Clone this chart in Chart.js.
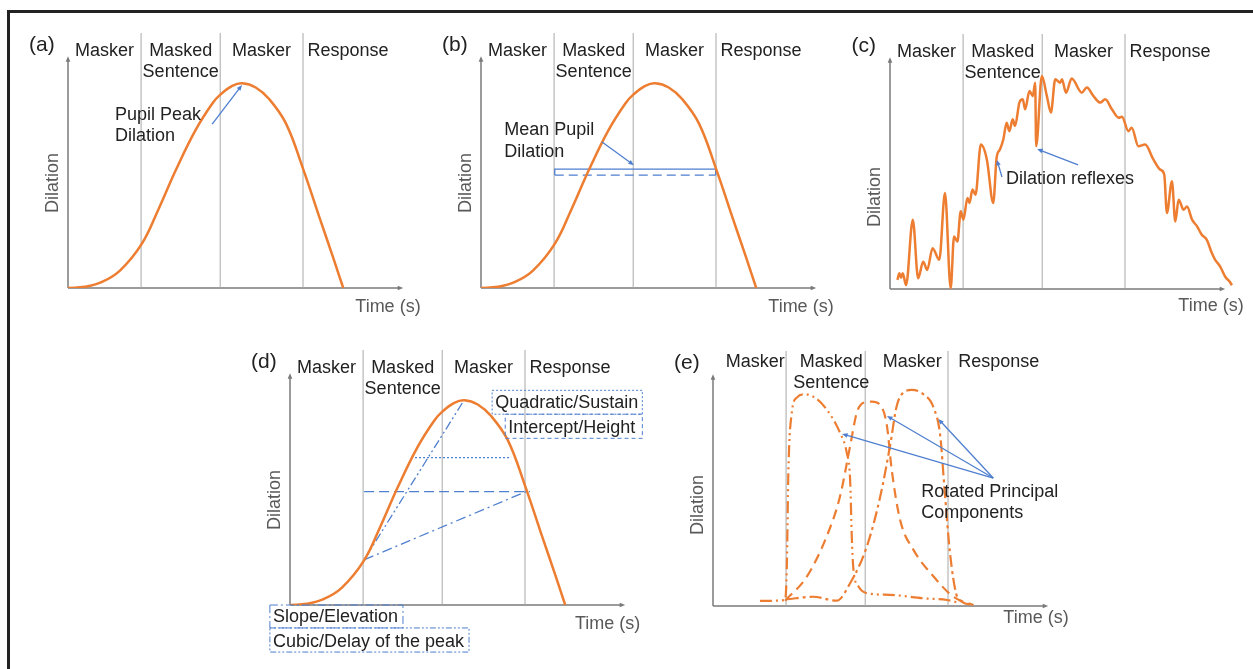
<!DOCTYPE html>
<html>
<head>
<meta charset="utf-8">
<script src="https://cdn.jsdelivr.net/npm/chart.js@4.4.0/dist/chart.umd.min.js"></script>
<style>
  body { margin: 0; background: #fff; }
  #fig { position: relative; width: 1253px; height: 669px; overflow: hidden; background: #fff; }
  #frame { position: absolute; left: 7px; top: 10px; width: 1300px; height: 700px;
           border-top: 3px solid #222; border-left: 3px solid #222; }
  canvas { position: absolute; }
</style>
</head>
<body>
<div id="fig">
  <div id="frame"></div>
  <canvas id="pa" width="420" height="340" style="left:8px;top:13px"></canvas>
  <canvas id="pb" width="420" height="340" style="left:421px;top:13px"></canvas>
  <canvas id="pc" width="420" height="340" style="left:830px;top:14px"></canvas>
  <canvas id="pd" width="420" height="340" style="left:230px;top:330px"></canvas>
  <canvas id="pe" width="420" height="340" style="left:653px;top:331px"></canvas>
</div>
<script>
var FONT = '"Liberation Sans", Arial, sans-serif';
var ORANGE = '#ed7d31';
var BLUE = '#4f7fcf';
var PHASE = '#a8a8a8';
var AXIS = '#7a7a7a';

// trial phases (time, s)
var phaseBounds = [2.18, 4.54, 7.01];
var phaseEnd = 9.7;
var phaseNames = [['Masker'], ['Masked', 'Sentence'], ['Masker'], ['Response']];

// idealised pupil response, panels a, b, d
var pupilTime = [0, 0.5, 1.0, 1.55, 2.2, 2.7, 3.22, 3.8, 4.3, 4.55, 4.9, 5.2, 5.6, 6.0, 6.5, 7.01, 7.5, 7.9, 8.21];
var pupilDil  = [0, 0.05, 0.25, 0.75, 1.9, 3.4, 5.1, 6.8, 7.95, 8.35, 8.72, 8.83, 8.65, 8.15, 7.1, 5.15, 3.05, 1.35, 0];

// raw trace with reflexes, panel c
var rawTime = [0.22, 0.28, 0.33, 0.38, 0.48, 0.68, 0.84, 0.99, 1.11, 1.27, 1.47, 1.64, 1.81, 1.91, 2.01, 2.11, 2.19, 2.31,
  2.37, 2.46, 2.55, 2.71, 2.89, 3.08, 3.18, 3.28, 3.38, 3.48, 3.56, 3.66, 3.73, 3.86, 3.96, 4.03, 4.16, 4.26, 4.33, 4.36,
  4.53, 4.68, 4.80, 4.93, 5.07, 5.13, 5.25, 5.42, 5.72, 5.87, 6.07, 6.27, 6.42, 6.62, 6.82, 6.92, 7.11, 7.21, 7.41, 7.61,
  7.86, 8.06, 8.18, 8.26, 8.41, 8.51, 8.61, 8.76, 8.86, 9.01, 9.16, 9.30, 9.45, 9.60, 9.70, 9.85, 10.0, 10.13, 10.20];
var rawDil = [0.39, 0.68, 0.48, 0.68, 0.17, 2.99, 0.46, 1.18, 0.82, 1.76, 1.26, 4.14, 0.03, 2.26, 2.05, 3.35, 2.99, 3.93,
  3.71, 4.29, 4.07, 6.23, 5.58, 3.71, 5.66, 6.02, 6.45, 7.17, 6.81, 7.32, 7.03, 8.04, 8.18, 7.75, 8.54, 8.32, 8.90, 6.16,
  9.19, 8.32, 7.61, 9.05, 8.90, 9.05, 8.47, 9.08, 8.47, 8.69, 8.32, 8.04, 8.18, 7.75, 7.39, 7.43, 6.81, 6.96, 6.16, 6.23,
  5.58, 5.15, 4.94, 3.28, 4.65, 2.91, 3.85, 3.42, 3.56, 2.99, 2.70, 2.34, 2.12, 1.55, 1.26, 0.97, 0.53, 0.32, 0.16];

// mean pupil dilation band, panel b
var meanSpan = [2.2, 7.0];
var meanTop = 5.13;
var meanBottom = 4.87;

// growth curve terms, panel d
var cubicTime = [2.21, 5.19],  cubicDil = [1.95, 8.83];
var slopeTime = [2.21, 7.04],  slopeDil = [1.95, 4.89];
var interTime = [2.21, 7.16],  interDil = [4.89, 4.89];
var quadTime  = [3.73, 6.57],  quadDil  = [6.36, 6.36];

// rotated principal components, panel e
var pc1Time = [1.40, 2.15, 2.20, 2.25, 2.35, 2.50, 2.75, 3.04, 3.39, 3.79, 3.99, 4.09, 4.14, 4.19, 4.34, 4.59, 5.28, 6.28, 6.98, 7.37];
var pc1Dil  = [0.22, 0.26, 1.56, 5.89, 8.34, 8.99, 9.13, 8.99, 8.48, 7.47, 6.61, 5.45, 3.0, 1.56, 0.84, 0.55, 0.48, 0.33, 0.26, 0.12];
var pc2Time = [2.15, 2.80, 3.39, 3.79, 4.09, 4.29, 4.49, 4.74, 5.04, 5.19, 5.33, 5.58, 5.98, 6.58, 7.17, 7.77];
var pc2Dil  = [0.23, 1.27, 3.0, 4.73, 6.9, 8.34, 8.77, 8.82, 8.56, 7.76, 5.89, 3.72, 2.42, 1.27, 0.40, 0.04];
var pc3Time = [2.20, 2.99, 3.69, 4.09, 4.59, 4.99, 5.28, 5.48, 5.68, 5.93, 6.28, 6.58, 6.78, 6.90, 7.07, 7.25, 7.42, 7.77];
var pc3Dil  = [0.29, 0.40, 0.23, 0.98, 2.57, 4.73, 6.9, 8.63, 9.21, 9.32, 9.13, 8.56, 7.33, 5.16, 2.28, 0.55, 0.19, 0.04];

function zip(t, d) {
    return t.map(function (v, i) { return { x: v, y: d[i] }; });
}

function curve(t, d, color, width, dash, smooth) {
    var ds = {
        data: zip(t, d),
        borderColor: color,
        borderWidth: width,
        borderDash: dash || [],
        pointRadius: 0,
        fill: false
    };
    if (smooth) {
        ds.tension = smooth;
    } else {
        ds.cubicInterpolationMode = 'monotone';
    }
    return ds;
}

function phaseLines() {
    return phaseBounds.map(function (b) {
        return { data: [{ x: b, y: 0 }, { x: b, y: 11 }], borderColor: PHASE, borderWidth: 1, pointRadius: 0 };
    });
}

function drawArrow(ctx, x1, y1, x2, y2, head) {
    var a = Math.atan2(y2 - y1, x2 - x1);
    ctx.beginPath();
    ctx.moveTo(x1, y1);
    ctx.lineTo(x2 - Math.cos(a) * head * 0.6, y2 - Math.sin(a) * head * 0.6);
    ctx.stroke();
    ctx.beginPath();
    ctx.moveTo(x2, y2);
    ctx.lineTo(x2 - head * Math.cos(a - 0.4), y2 - head * Math.sin(a - 0.4));
    ctx.lineTo(x2 - head * Math.cos(a + 0.4), y2 - head * Math.sin(a + 0.4));
    ctx.closePath();
    ctx.fill();
}

var schematic = {
    id: 'schematic',
    beforeDatasetsDraw: function (chart) {
        var ctx = chart.ctx;
        var X = function (v) { return chart.scales.x.getPixelForValue(v); };
        var Y = function (v) { return chart.scales.y.getPixelForValue(v); };
        ctx.save();
        ctx.strokeStyle = AXIS;
        ctx.fillStyle = AXIS;
        ctx.lineWidth = 1.5;
        drawArrow(ctx, X(0), Y(0), X(10), Y(0), 6);
        drawArrow(ctx, X(0), Y(0), X(0), Y(10), 6);
        ctx.restore();
    },
    afterDatasetsDraw: function (chart) {
        var o = chart.options.plugins.schematic;
        var ctx = chart.ctx;
        var X = function (v) { return chart.scales.x.getPixelForValue(v); };
        var Y = function (v) { return chart.scales.y.getPixelForValue(v); };
        ctx.save();
        ctx.textBaseline = 'middle';

        // panel letter
        ctx.fillStyle = '#222';
        ctx.font = '21px ' + FONT;
        ctx.textAlign = 'center';
        ctx.fillText(o.letter, X(-0.78), Y(10.48));

        // phase names
        ctx.font = '18px ' + FONT;
        var edges = [0].concat(phaseBounds, [phaseEnd]);
        phaseNames.forEach(function (lines, i) {
            var cx = (edges[i] + edges[i + 1]) / 2 + (o.labelDx || 0);
            lines.forEach(function (s, j) {
                ctx.fillText(s, X(cx), Y(10.22 + (o.labelDy || 0) - j * 0.92));
            });
        });

        // axis titles
        ctx.fillStyle = '#595959';
        ctx.save();
        ctx.translate(X(-0.45), Y(o.titleY));
        ctx.rotate(-Math.PI / 2);
        ctx.fillText('Dilation', 0, 0);
        ctx.restore();
        ctx.textAlign = 'left';
        ctx.fillText('Time (s)', X(o.timeX), Y(o.timeY));

        // boxes
        ctx.strokeStyle = BLUE;
        ctx.lineWidth = 1;
        (o.boxes || []).forEach(function (b) {
            ctx.setLineDash(b.dash);
            ctx.strokeRect(X(b.x0), Y(b.y1), X(b.x1) - X(b.x0), Y(b.y0) - Y(b.y1));
        });
        ctx.setLineDash([]);

        // notes
        ctx.fillStyle = '#222';
        (o.notes || []).forEach(function (n) {
            ctx.fillText(n.text, X(n.x), Y(n.y));
        });

        // arrows
        ctx.strokeStyle = BLUE;
        ctx.fillStyle = BLUE;
        ctx.lineWidth = 1.3;
        (o.arrows || []).forEach(function (a) {
            drawArrow(ctx, X(a[0]), Y(a[1]), X(a[2]), Y(a[3]), 6);
        });
        ctx.restore();
    }
};

function makePanel(id, datasets, extra) {
    return new Chart(document.getElementById(id), {
        type: 'line',
        data: { datasets: datasets.concat(phaseLines()) },
        options: {
            responsive: false,
            animation: false,
            devicePixelRatio: 1,
            layout: { padding: { left: 60, top: 20, right: 8, bottom: 65 } },
            scales: {
                x: { type: 'linear', min: 0, max: 10.5, display: false },
                y: { type: 'linear', min: 0, max: 11, display: false }
            },
            plugins: {
                legend: { display: false },
                tooltip: { enabled: false },
                schematic: extra
            }
        },
        plugins: [schematic]
    });
}

makePanel('pa', [curve(pupilTime, pupilDil, ORANGE, 2.5, null, 0.4)], {
    letter: '(a)', titleY: 4.53, timeX: 8.57, timeY: -0.82,
    notes: [{ text: 'Pupil Peak', x: 1.40, y: 7.46 }, { text: 'Dilation', x: 1.40, y: 6.56 }],
    arrows: [[4.30, 7.07, 5.19, 8.76]]
});

makePanel('pb', [
    curve(pupilTime, pupilDil, ORANGE, 2.5, null, 0.4),
    { data: [{ x: meanSpan[0], y: meanBottom }, { x: meanSpan[0], y: meanTop }, { x: meanSpan[1], y: meanTop }, { x: meanSpan[1], y: meanBottom }],
      borderColor: BLUE, borderWidth: 1.3, pointRadius: 0 },
    { data: [{ x: meanSpan[0], y: meanBottom }, { x: meanSpan[1], y: meanBottom }],
      borderColor: BLUE, borderWidth: 1.3, borderDash: [9, 5], pointRadius: 0 }
], {
    letter: '(b)', titleY: 4.53, timeX: 8.57, timeY: -0.82,
    notes: [{ text: 'Mean Pupil', x: 0.69, y: 6.82 }, { text: 'Dilation', x: 0.69, y: 5.87 }],
    arrows: [[3.61, 6.30, 4.56, 5.30]]
});

makePanel('pc', [curve(rawTime, rawDil, ORANGE, 2.5)], {
    letter: '(c)', titleY: 3.97, timeX: 8.6, timeY: -0.72,
    notes: [{ text: 'Dilation reflexes', x: 3.46, y: 4.75 }],
    arrows: [[3.34, 4.83, 3.19, 5.57], [5.61, 5.35, 4.39, 6.04]]
});

makePanel('pd', [
    curve(pupilTime, pupilDil, ORANGE, 2.5, null, 0.4),
    curve(cubicTime, cubicDil, BLUE, 1.3, [9, 3, 2, 3, 2, 3]),
    curve(slopeTime, slopeDil, BLUE, 1.3, [10, 4, 2, 4]),
    curve(interTime, interDil, BLUE, 1.3, [10, 5]),
    curve(quadTime, quadDil, BLUE, 1.3, [2, 2])
], {
    letter: '(d)', titleY: 4.53, timeX: 8.5, timeY: -0.82,
    boxes: [
        { x0: 6.03, x1: 10.51, y0: 8.23, y1: 9.26, dash: [2, 2] },
        { x0: 6.42, x1: 10.51, y0: 7.19, y1: 8.23, dash: [4, 3] },
        { x0: -0.6, x1: 3.37, y0: -0.99, y1: 0, dash: [8, 3, 2, 3] },
        { x0: -0.6, x1: 5.34, y0: -2.03, y1: -0.99, dash: [6, 2, 2, 2, 2, 2] }
    ],
    notes: [
        { text: 'Quadratic/Sustain', x: 6.12, y: 8.71 },
        { text: 'Intercept/Height', x: 6.51, y: 7.64 },
        { text: 'Slope/Elevation', x: -0.51, y: -0.52 },
        { text: 'Cubic/Delay of the peak', x: -0.51, y: -1.6 }
    ]
});

makePanel('pe', [
    curve(pc1Time, pc1Dil, ORANGE, 2.2, [12, 4, 2, 4, 2, 4]),
    curve(pc2Time, pc2Dil, ORANGE, 2.2, [10, 6]),
    curve(pc3Time, pc3Dil, ORANGE, 2.2, [12, 4, 3, 4])
], {
    letter: '(e)', titleY: 4.36, timeX: 8.66, timeY: -0.52, labelDx: 0.17, labelDy: 0.3,
    notes: [{ text: 'Rotated Principal', x: 6.21, y: 4.92 }, { text: 'Components', x: 6.21, y: 4.01 }],
    arrows: [[8.36, 5.52, 3.85, 7.42], [8.36, 5.52, 5.19, 8.20], [8.36, 5.52, 6.72, 8.07]]
});
</script>
</body>
</html>
